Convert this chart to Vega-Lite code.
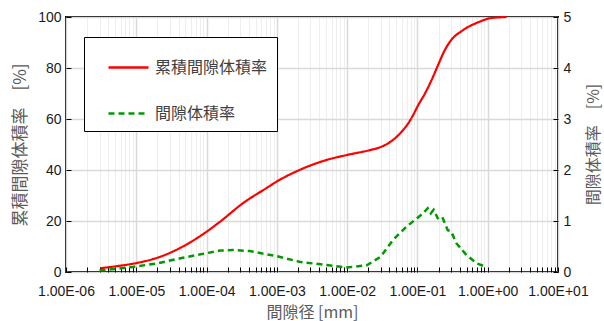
{
  "$schema": "https://vega.github.io/schema/vega-lite/v6.json",
  "autosize": "none",
  "width": 492,
  "height": 255,
  "padding": {"left": 66, "top": 17, "right": 46, "bottom": 49},
  "background": "white",
  "config": {
    "font": "Liberation Sans",
    "view": {"stroke": "black", "strokeWidth": 2},
    "axis": {"labelFont": "Liberation Sans", "titleFont": "Noto Sans CJK JP", "labelFontSize": 14, "labelColor": "#1a1a1a", "titleFontSize": 17, "titleFontWeight": "normal", "titleColor": "#595959", "domain": false, "tickColor": "black", "tickSize": -5}
  },
  "data": {"values": [
    {"d": 3.1e-6, "v": 1.5, "s": "累積間隙体積率"},
    {"d": 5e-6, "v": 2.2, "s": "累積間隙体積率"},
    {"d": 1e-5, "v": 3.5, "s": "累積間隙体積率"},
    {"d": 2.2e-5, "v": 6, "s": "累積間隙体積率"},
    {"d": 4.6e-5, "v": 10, "s": "累積間隙体積率"},
    {"d": 1e-4, "v": 15.8, "s": "累積間隙体積率"},
    {"d": 1.55e-4, "v": 19.7, "s": "累積間隙体積率"},
    {"d": 3.3e-4, "v": 27, "s": "累積間隙体積率"},
    {"d": 7.2e-4, "v": 33, "s": "累積間隙体積率"},
    {"d": 1e-3, "v": 35.5, "s": "累積間隙体積率"},
    {"d": 2.1e-3, "v": 40, "s": "累積間隙体積率"},
    {"d": 5.2e-3, "v": 44, "s": "累積間隙体積率"},
    {"d": 1e-2, "v": 45.9, "s": "累積間隙体積率"},
    {"d": 2.1e-2, "v": 47.8, "s": "累積間隙体積率"},
    {"d": 2.93e-2, "v": 48.9, "s": "累積間隙体積率"},
    {"d": 3.85e-2, "v": 50.5, "s": "累積間隙体積率"},
    {"d": 4.79e-2, "v": 52.4, "s": "累積間隙体積率"},
    {"d": 5.95e-2, "v": 55, "s": "累積間隙体積率"},
    {"d": 7.4e-2, "v": 58.3, "s": "累積間隙体積率"},
    {"d": 8.7e-2, "v": 61.6, "s": "累積間隙体積率"},
    {"d": 0.103, "v": 65.5, "s": "累積間隙体積率"},
    {"d": 0.128, "v": 70, "s": "累積間隙体積率"},
    {"d": 0.159, "v": 75.3, "s": "累積間隙体積率"},
    {"d": 0.197, "v": 81.2, "s": "累積間隙体積率"},
    {"d": 0.235, "v": 86, "s": "累積間隙体積率"},
    {"d": 0.29, "v": 90.3, "s": "累積間隙体積率"},
    {"d": 0.449, "v": 94.9, "s": "累積間隙体積率"},
    {"d": 0.776, "v": 98.2, "s": "累積間隙体積率"},
    {"d": 1.07, "v": 99.5, "s": "累積間隙体積率"},
    {"d": 1.86, "v": 100, "s": "累積間隙体積率"},
    {"d": 3e-6, "v": 0.03, "s": "間隙体積率"},
    {"d": 5e-6, "v": 0.06, "s": "間隙体積率"},
    {"d": 9e-6, "v": 0.1, "s": "間隙体積率"},
    {"d": 2e-5, "v": 0.17, "s": "間隙体積率"},
    {"d": 4.6e-5, "v": 0.28, "s": "間隙体積率"},
    {"d": 1e-4, "v": 0.37, "s": "間隙体積率"},
    {"d": 1.55e-4, "v": 0.42, "s": "間隙体積率"},
    {"d": 2.4e-4, "v": 0.43, "s": "間隙体積率"},
    {"d": 4.1e-4, "v": 0.41, "s": "間隙体積率"},
    {"d": 1e-3, "v": 0.31, "s": "間隙体積率"},
    {"d": 2.1e-3, "v": 0.2, "s": "間隙体積率"},
    {"d": 6.3e-3, "v": 0.12, "s": "間隙体積率"},
    {"d": 1e-2, "v": 0.09, "s": "間隙体積率"},
    {"d": 1.9e-2, "v": 0.13, "s": "間隙体積率"},
    {"d": 3e-2, "v": 0.3, "s": "間隙体積率"},
    {"d": 4.5e-2, "v": 0.63, "s": "間隙体積率"},
    {"d": 7e-2, "v": 0.89, "s": "間隙体積率"},
    {"d": 0.1, "v": 1.06, "s": "間隙体積率"},
    {"d": 0.12, "v": 1.15, "s": "間隙体積率"},
    {"d": 0.14, "v": 1.25, "s": "間隙体積率"},
    {"d": 0.155, "v": 1.15, "s": "間隙体積率"},
    {"d": 0.17, "v": 1.22, "s": "間隙体積率"},
    {"d": 0.2, "v": 1.02, "s": "間隙体積率"},
    {"d": 0.23, "v": 1.05, "s": "間隙体積率"},
    {"d": 0.27, "v": 0.82, "s": "間隙体積率"},
    {"d": 0.3, "v": 0.8, "s": "間隙体積率"},
    {"d": 0.36, "v": 0.56, "s": "間隙体積率"},
    {"d": 0.5, "v": 0.33, "s": "間隙体積率"},
    {"d": 0.7, "v": 0.17, "s": "間隙体積率"},
    {"d": 0.94, "v": 0.1, "s": "間隙体積率"}
  ]},
  "encoding": {
    "x": {
      "field": "d", "type": "quantitative",
      "scale": {"type": "log", "domain": [1e-6, 10], "nice": false},
      "axis": {
        "title": "間隙径 [mm]",
        "titlePadding": 6,
        "titleFontSize": 16,
        "values": [1e-6,2e-6,3e-6,4e-6,5e-6,6e-6,7e-6,8e-6,9e-6,1e-5,2e-5,3e-5,4e-5,5e-5,6e-5,7e-5,8e-5,9e-5,1e-4,2e-4,3e-4,4e-4,5e-4,6e-4,7e-4,8e-4,9e-4,1e-3,2e-3,3e-3,4e-3,5e-3,6e-3,7e-3,8e-3,9e-3,1e-2,2e-2,3e-2,4e-2,5e-2,6e-2,7e-2,8e-2,9e-2,0.1,0.2,0.3,0.4,0.5,0.6,0.7,0.8,0.9,1,2,3,4,5,6,7,8,9,10],
        "labelExpr": "abs(log(datum.value)/LN10 - round(log(datum.value)/LN10)) < 0.001 ? '1.00E' + (round(log(datum.value)/LN10) < 0 ? '-' : '+') + '0' + abs(round(log(datum.value)/LN10)) : ''",
        "labelPadding": 17,
        "labelFlush": false,
        "labelOverlap": false,
        "grid": true,
        "gridColor": {"condition": {"test": "abs(log(datum.value)/LN10 - round(log(datum.value)/LN10)) < 0.001", "value": "#d9d9d9"}, "value": "#eeeeee"},
        "gridWidth": {"condition": {"test": "abs(log(datum.value)/LN10 - round(log(datum.value)/LN10)) < 0.001", "value": 1.5}, "value": 1}
      }
    },
    "color": {
      "field": "s", "type": "nominal",
      "scale": {"domain": ["累積間隙体積率", "間隙体積率"], "range": ["#ff0000", "#009900"]},
      "legend": {
        "title": null, "orient": "none", "legendX": 18, "legendY": 20,
        "direction": "vertical",
        "strokeColor": "black", "fillColor": "white",
        "padding": 9, "rowPadding": 16,
        "symbolType": "stroke", "symbolSize": 1600, "symbolStrokeWidth": 2.5, "symbolOffset": 14,
        "labelFont": "Noto Sans CJK JP", "labelFontSize": 16, "labelColor": "#404040",
        "labelOffset": 5, "offset": 0
      }
    },
    "strokeDash": {
      "field": "s", "type": "nominal",
      "scale": {"domain": ["累積間隙体積率", "間隙体積率"], "range": [[1, 0], [6, 4]]},
      "legend": null
    }
  },
  "layer": [
    {
      "transform": [{"filter": "datum.s === '累積間隙体積率'"}],
      "mark": {"type": "line", "strokeWidth": 2.2, "interpolate": "monotone"},
      "encoding": {
        "y": {
          "field": "v", "type": "quantitative",
          "scale": {"domain": [0, 100], "nice": false},
          "axis": {"title": "累積間隙体積率　[%]", "values": [0, 20, 40, 60, 80, 100], "grid": true, "gridColor": "#d9d9d9", "gridWidth": 1.5, "titlePadding": 8, "labelPadding": 10}
        }
      }
    },
    {
      "transform": [{"filter": "datum.s === '間隙体積率'"}],
      "mark": {"type": "line", "strokeWidth": 2.5},
      "encoding": {
        "y": {
          "field": "v", "type": "quantitative",
          "scale": {"domain": [0, 5], "nice": false},
          "axis": {"orient": "right", "title": "間隙体積率　[%]", "titleFontSize": 16, "titleAngle": 270, "titleX": 35, "titleY": 127, "titleAlign": "center", "titleBaseline": "middle", "values": [0, 1, 2, 3, 4, 5], "grid": false, "labelPadding": 10}
        }
      }
    }
  ],
  "resolve": {"scale": {"y": "independent"}}
}
